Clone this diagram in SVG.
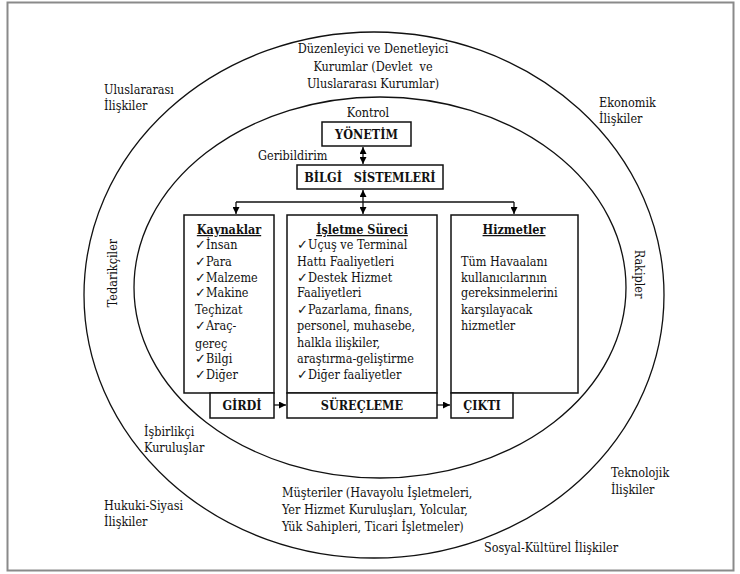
<svg xmlns="http://www.w3.org/2000/svg" width="740" height="574" viewBox="0 0 740 574">
<defs>
<marker id="ah" markerUnits="userSpaceOnUse" markerWidth="8" markerHeight="7" refX="7" refY="3.5" orient="auto-start-reverse"><path d="M0,0 L7,3.5 L0,7 z" fill="#000"/></marker>
</defs>
<style>
text{font-family:'DejaVu Serif Condensed','DejaVu Serif','Liberation Serif',serif;font-stretch:condensed;font-size:12.5px;fill:#111}
.b{font-weight:bold}
.u{font-weight:bold;text-decoration:underline}
.c{text-anchor:middle}
.box{fill:#fff;stroke:#111;stroke-width:1.5}
.ring{fill:none;stroke:#111;stroke-width:1.3}
.con{fill:none;stroke:#111;stroke-width:1.3}
</style>
<rect x="0" y="0" width="740" height="574" fill="#fff"/>
<rect x="7.5" y="2.5" width="726" height="568" fill="none" stroke="#8a8a8a" stroke-width="2"/>
<g id="outer-ring">
<ellipse class="ring" cx="374" cy="295" rx="290" ry="263"/>
<text x="373" y="53" class="c">Düzenleyici ve Denetleyici</text>
<text x="373" y="71" class="c" xml:space="preserve">Kurumlar (Devlet  ve</text>
<text x="373" y="88" class="c">Uluslararası Kurumlar)</text>
<text x="104" y="94">Uluslararası</text>
<text x="104" y="110">İlişkiler</text>
<text x="599" y="107">Ekonomik</text>
<text x="599" y="123">İlişkiler</text>
<text x="104" y="510">Hukuki-Siyasi</text>
<text x="104" y="526">İlişkiler</text>
<text x="611" y="477">Teknolojik</text>
<text x="611" y="494">İlişkiler</text>
<text x="484" y="552">Sosyal-Kültürel İlişkiler</text>
</g>
<g id="inner-ring">
<ellipse class="ring" cx="380" cy="287.5" rx="246" ry="190.5"/>
<text transform="translate(117,273) rotate(-90)" class="c">Tedarikçiler</text>
<text transform="translate(635,274) rotate(90)" class="c">Rakipler</text>
<text x="144" y="436">İşbirlikçi</text>
<text x="144" y="452">Kuruluşlar</text>
<text x="282" y="497">Müşteriler (Havayolu İşletmeleri,</text>
<text x="282" y="514">Yer Hizmet Kuruluşları, Yolcular,</text>
<text x="282" y="531">Yük Sahipleri, Ticari İşletmeler)</text>
</g>
<g id="yonetim">
<text x="368" y="117" class="c">Kontrol</text>
<rect class="box" x="322" y="122" width="89" height="24"/>
<text x="366.5" y="139" class="c b">YÖNETİM</text>
</g>
<g id="bilgi">
<text x="258" y="160">Geribildirim</text>
<rect class="box" x="297" y="165" width="146" height="24"/>
<text x="370" y="182" class="c b" xml:space="preserve">BİLGİ   SİSTEMLERİ</text>
</g>
<g id="kaynaklar">
<rect class="box" x="184" y="215" width="90" height="178"/>
<text x="229" y="234" class="c u">Kaynaklar</text>
<text x="195" y="249">✓İnsan</text>
<text x="195" y="266">✓Para</text>
<text x="195" y="282">✓Malzeme</text>
<text x="195" y="297">✓Makine</text>
<text x="195" y="314">Teçhizat</text>
<text x="195" y="330">✓Araç-</text>
<text x="195" y="348">gereç</text>
<text x="195" y="363">✓Bilgi</text>
<text x="195" y="379">✓Diğer</text>
</g>
<g id="girdi">
<rect class="box" x="210" y="393" width="64" height="25"/>
<text x="242" y="410" class="c b">GİRDİ</text>
</g>
<g id="isletme">
<rect class="box" x="287" y="215" width="150" height="178"/>
<text x="362" y="234" class="c u">İşletme Süreci</text>
<text x="297" y="249">✓Uçuş ve Terminal</text>
<text x="297" y="266">Hattı Faaliyetleri</text>
<text x="297" y="282">✓Destek Hizmet</text>
<text x="297" y="297">Faaliyetleri</text>
<text x="297" y="314">✓Pazarlama, finans,</text>
<text x="297" y="330">personel, muhasebe,</text>
<text x="297" y="347">halkla ilişkiler,</text>
<text x="297" y="363">araştırma-geliştirme</text>
<text x="297" y="379">✓Diğer faaliyetler</text>
</g>
<g id="surecleme">
<rect class="box" x="287" y="393" width="150" height="25"/>
<text x="362" y="410" class="c b">SÜREÇLEME</text>
</g>
<g id="hizmetler">
<rect class="box" x="451" y="215" width="127" height="178"/>
<text x="514" y="234" class="c u">Hizmetler</text>
<text x="461" y="266">Tüm Havaalanı</text>
<text x="461" y="282">kullanıcılarının</text>
<text x="461" y="297">gereksinmelerini</text>
<text x="461" y="314">karşılayacak</text>
<text x="461" y="330">hizmetler</text>
</g>
<g id="cikti">
<rect class="box" x="451" y="393" width="62" height="25"/>
<text x="482" y="410" class="c b">ÇIKTI</text>
</g>
<g id="connectors">
<path class="con" d="M363,147 V164" marker-start="url(#ah)" marker-end="url(#ah)"/>
<path class="con" d="M363,190 V214" marker-start="url(#ah)" marker-end="url(#ah)"/>
<path class="con" d="M236,202 H514"/>
<path class="con" d="M236,202 V214" marker-end="url(#ah)"/>
<path class="con" d="M514,202 V214" marker-end="url(#ah)"/>
<path class="con" d="M274,405 H286" marker-end="url(#ah)"/>
<path class="con" d="M437,405 H450" marker-end="url(#ah)"/>
</g>
</svg>
